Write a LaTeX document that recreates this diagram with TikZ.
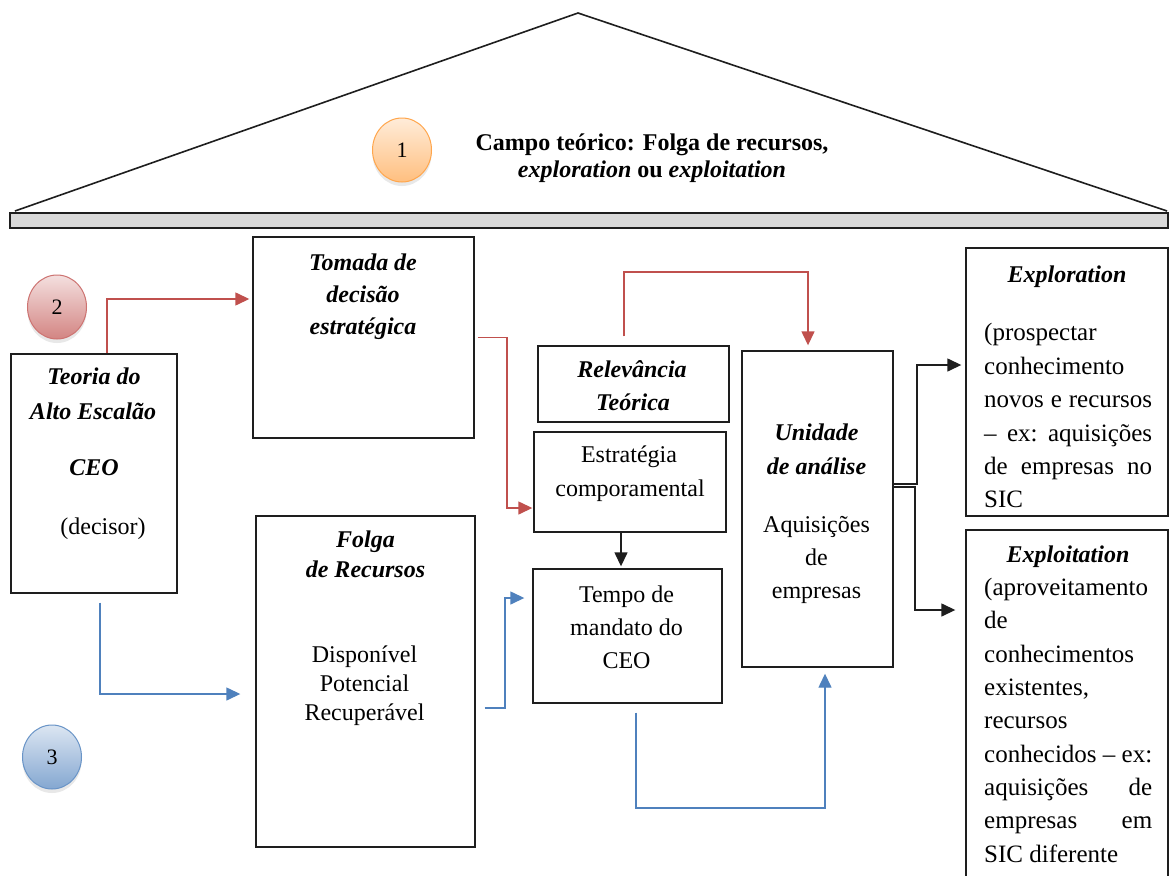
\documentclass[tikz,border=0pt]{standalone}
\usepackage{fontspec}
\setmainfont{Liberation Serif}
\usetikzlibrary{arrows.meta,shapes.geometric,shadows}
\definecolor{redc}{HTML}{C0504D}
\definecolor{bluec}{HTML}{4F81BD}
\definecolor{linec}{HTML}{1E1E1E}
\begin{document}
\begin{tikzpicture}[x=1pt,y=-1pt,
  box/.style={draw=linec,line width=1.4pt,inner sep=0pt,fill=white},
  lbl/.style={anchor=base,yshift=-7.5pt,inner sep=0pt,font=\fontsize{24}{29}\selectfont},
  lblb/.style={lbl,font=\fontsize{24}{29}\selectfont\bfseries\itshape},
  rl/.style={anchor=base west,yshift=-7.5pt,inner sep=0pt,font=\fontsize{25}{30}\selectfont},
  conn/.style={line width=1.4pt,-{Triangle[length=14pt,width=13pt]}},
  redarr/.style={conn,draw=redc},
  bluearr/.style={conn,draw=bluec},
  blackarr/.style={conn,draw=linec},
  circ/.style={ellipse,draw,line width=1pt,minimum width=59pt,minimum height=64pt,inner sep=0pt,
    font=\fontsize{22}{24}\selectfont,
    drop shadow={opacity=0.18,shadow xshift=0pt,shadow yshift=-4pt}}
]
\useasboundingbox (0,0) rectangle (1169,875);
\fill[white] (0,0) rectangle (1169,875);

% roof
\draw[linec,line width=1.6pt] (15,211) -- (578,13) -- (1167,211);
\draw[linec,line width=1.4pt,fill=black!15] (10,213) rectangle (1168,228);

% circles
\node[circ,draw=orange!70!white,top color=orange!15,bottom color=orange!50] (n1) at (402,150) {1};
\node[circ,draw=redc!80,top color=redc!18,bottom color=redc!70] (n2) at (57,307) {2};
\node[circ,draw=bluec!85,top color=bluec!20,bottom color=bluec!70] (n3) at (52,757) {3};

\node[lbl,font=\fontsize{24}{29}\selectfont\bfseries] (campo1) at (652,143) {Campo teórico: Folga de recursos,};
\node[lbl,font=\fontsize{24}{29}\selectfont\bfseries] (campo2) at (652,170) {\textit{exploration} ou \textit{exploitation}};

% boxes
\node[box,minimum width=166pt,minimum height=239pt] (teoria) at (94,473.5) {};
\node[box,minimum width=221pt,minimum height=201pt] (tomada) at (363.5,337.5) {};
\node[box,minimum width=219pt,minimum height=331pt] (folga) at (365.5,681.5) {};
\node[box,minimum width=191pt,minimum height=76pt] (relev) at (633.5,384) {};
\node[box,minimum width=192pt,minimum height=100pt] (estrat) at (630,482) {};
\node[box,minimum width=189pt,minimum height=134pt] (tempo) at (627.5,636) {};
\node[box,minimum width=151pt,minimum height=316pt] (unid) at (817.5,509) {};
\node[box,minimum width=202pt,minimum height=268pt] (explor) at (1067,382) {};
\node[box,minimum width=202pt,minimum height=370pt] (exploit) at (1067,715) {};

% teoria texts
\node[lblb] (t1) at (94,377) {Teoria do};
\node[lblb] (t2) at (93,412) {Alto Escalão};
\node[lblb] (t3) at (94,468) {CEO};
\node[lbl] (t4) at (103,527) {(decisor)};

% tomada
\node[lblb] (tm1) at (363,263) {Tomada de};
\node[lblb] (tm2) at (363,295) {decisão};
\node[lblb] (tm3) at (363,327) {estratégica};

% folga
\node[lblb] (f1) at (365.5,540) {Folga};
\node[lblb] (f2) at (365.5,570) {de Recursos};
\node[lbl] (f3) at (364.5,655) {Disponível};
\node[lbl] (f4) at (364.5,684) {Potencial};
\node[lbl] (f5) at (364.5,713) {Recuperável};

% relevancia
\node[lblb] (rv1) at (632,370) {Relevância};
\node[lblb] (rv2) at (633,403) {Teórica};

% estrategia
\node[lbl] (e1) at (629,455) {Estratégia};
\node[lbl] (e2) at (630,489) {comporamental};

% tempo
\node[lbl] (tp1) at (626.5,595) {Tempo de};
\node[lbl] (tp2) at (626.5,628) {mandato do};
\node[lbl] (tp3) at (626.5,661) {CEO};

% unidade
\node[lblb] (u1) at (816.5,433) {Unidade};
\node[lblb] (u2) at (816.5,467) {de análise};
\node[lbl] (u3) at (816.5,525) {Aquisições};
\node[lbl] (u4) at (816.5,558) {de};
\node[lbl] (u5) at (816.5,591) {empresas};

% exploration
\node[lblb] (x0) at (1067,275) {Exploration};
\node[rl] (x1) at (984,333) {(prospectar};
\node[rl] (x2) at (984,366.5) {conhecimento};
\node[rl] (x3) at (984,400) {\hbox to 168pt{novos\hfill e\hfill recursos}};
\node[rl] (x4) at (984,433.5) {\hbox to 168pt{–\hfill ex:\hfill aquisições}};
\node[rl] (x5) at (984,467) {\hbox to 168pt{de\hfill empresas\hfill no}};
\node[rl] (x6) at (984,500) {SIC};

% exploitation
\node[lblb] (y0) at (1068,555) {Exploitation};
\node[rl] (y1) at (984,588) {(aproveitamento};
\node[rl] (y2) at (984,621.3) {de};
\node[rl] (y3) at (984,654.6) {conhecimentos};
\node[rl] (y4) at (984,688) {existentes,};
\node[rl] (y5) at (984,721.3) {recursos};
\node[rl] (y6) at (984,754.6) {\hbox to 168pt{conhecidos\hfill –\hfill ex:}};
\node[rl] (y7) at (984,788) {\hbox to 168pt{aquisições\hfill de}};
\node[rl] (y8) at (984,821.3) {\hbox to 168pt{empresas\hfill em}};
\node[rl] (y9) at (984,854.6) {SIC diferente};

% connector coordinates
\coordinate (r1) at (107,299);
\coordinate (r2) at (507,508);
\coordinate (r3a) at (624,272);
\coordinate (r3b) at (808,272);
\coordinate (k1) at (621,0);
\coordinate (k2) at (917,484);
\coordinate (k2t) at (917,365);
\coordinate (k3) at (915,487);
\coordinate (k3t) at (915,610);
\coordinate (b1) at (100,694);
\coordinate (b2a) at (505,708);
\coordinate (b2b) at (505,598);
\coordinate (b3a) at (636,808);
\coordinate (b3b) at (825,808);

% red connectors
\draw[redarr,shorten >=3pt] (teoria.north -| r1) -- (r1) -- (tomada.west |- r1);
\draw[redarr,shorten <=3pt,shorten >=1pt] (tomada.east) -| (r2) -- (estrat.west |- r2);
\draw[redarr,shorten <=9pt,shorten >=5pt] (relev.north -| r3a) -- (r3a) -- (r3b) -- (unid.north -| r3b);

% black connectors
\draw[blackarr,shorten >=2pt] (estrat.south -| k1) -- (tempo.north -| k1);
\draw[blackarr,shorten >=4pt] (unid.east |- k2) -- (k2) -- (k2t) -- (explor.west |- k2t);
\draw[blackarr,shorten >=10pt] (unid.east |- k3) -- (k3) -- (k3t) -- (exploit.west |- k3t);

% blue connectors
\draw[bluearr,shorten <=9pt,shorten >=15pt] (teoria.south -| b1) -- (b1) -- (folga.west |- b1);
\draw[bluearr,shorten <=9pt,shorten >=8pt] (folga.east |- b2a) -- (b2a) -- (b2b) -- (tempo.west |- b2b);
\draw[bluearr,shorten <=9pt,shorten >=6pt] (tempo.south -| b3a) -- (b3a) -- (b3b) -- (unid.south -| b3b);
\end{tikzpicture}
\end{document}
